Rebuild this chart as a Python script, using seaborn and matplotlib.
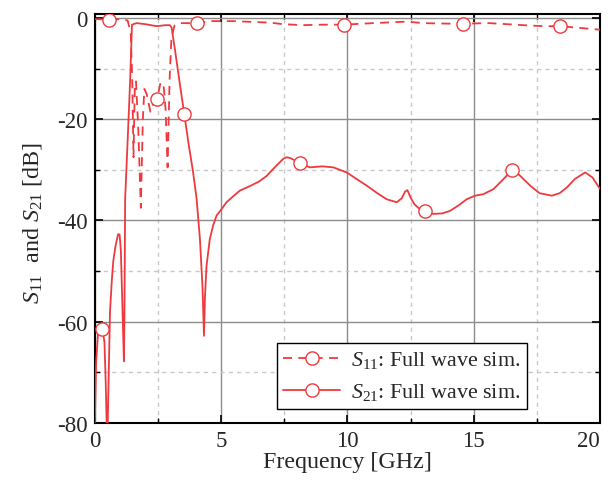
import numpy as np
import pandas as pd
import matplotlib
matplotlib.use("Agg")
import matplotlib.pyplot as plt
import seaborn as sns
from matplotlib.lines import Line2D
from matplotlib.ticker import MultipleLocator

# ---- data ----
s11_freq = [0.0, 0.55, 1.1, 1.3, 1.42, 1.48, 1.53, 1.58, 1.63, 1.72, 1.82, 1.9, 1.96,
            2.05, 2.2, 2.3, 2.47, 2.6, 2.72, 2.8, 2.88, 2.96, 3.03, 3.15, 3.37, 4.04,
            4.55, 5.47, 6.93, 7.45, 8.24, 9.03, 9.86, 11.0, 12.35, 13.0, 14.06, 14.57,
            15.64, 16.95, 17.75, 18.42, 20.0]
s11_db = [-0.2, -0.3, -0.2, -0.5, -3, -12, -27.5, -14, -12.5, -22, -37.5, -20, -14,
          -15, -18.5, -17, -16, -12.7, -13.2, -18, -29.5, -12, -4, -1.5, -1.0, -1.0,
          -0.6, -0.6, -0.9, -1.2, -1.4, -1.3, -1.3, -1.0, -0.7, -1.0, -1.1, -1.1,
          -1.0, -1.4, -1.6, -1.6, -2.3]

s21_freq = [0.0, 0.05, 0.13, 0.3, 0.38, 0.43, 0.49, 0.55, 0.6, 0.67, 0.73, 0.82, 0.92,
            0.98, 1.03, 1.08, 1.15, 1.17, 1.2, 1.3, 1.4, 1.47, 1.65, 2.0, 2.44, 2.8,
            2.97, 3.04, 3.17, 3.35, 3.54, 3.7, 3.89, 4.03, 4.16, 4.26, 4.32, 4.36,
            4.42, 4.55, 4.68, 4.82, 4.95, 5.21, 5.48, 5.74, 6.14, 6.5, 6.8, 7.1, 7.46,
            7.6, 7.75, 8.14, 8.51, 9.0, 9.44, 9.97, 10.36, 10.76, 11.15, 11.55, 11.95,
            12.15, 12.28, 12.37, 12.5, 12.65, 12.85, 13.07, 13.4, 13.75, 14.06, 14.4,
            14.72, 15.05, 15.38, 15.78, 16.1, 16.53, 16.8, 17.23, 17.6, 18.09, 18.4,
            18.68, 19.0, 19.41, 19.7, 20.0]
s21_db = [-80, -68, -62, -61.5, -64, -72, -85, -70, -58, -52, -48, -45, -42.7,
          -42.8, -46, -55, -67.8, -60, -35.6, -24, -12, -1.3, -1.0, -1.2, -1.6, -1.4,
          -1.4, -1.9, -6.2, -12.5, -19, -24.5, -30.5, -35.8, -43.7, -53, -62.8, -55,
          -49, -43.7, -41, -39, -38.2, -36.4, -35.2, -34.1, -33.2, -32.3, -31.2, -29.6, -27.8,
          -27.5, -27.7, -28.7, -29.5, -29.3, -29.5, -30.5, -31.8, -33.1, -34.5, -35.8, -36.4,
          -35.6, -34.3, -34.0, -35.5, -36.8, -37.7, -38.2, -38.7, -38.6, -38.1, -37.0,
          -35.8, -35.1, -34.8, -33.8, -32.2, -30.0, -31.0, -33.1, -34.6, -35.1, -34.6,
          -33.5, -31.8, -30.5, -31.5, -33.8]

s11_marker_freq = [0.55, 2.47, 4.04, 9.86, 14.57, 18.42]
s11_marker_db = [-0.3, -16, -1.0, -1.3, -1.1, -1.6]
s21_marker_freq = [0.3, 3.54, 8.14, 13.07, 16.53]
s21_marker_db = [-61.5, -19, -28.7, -38.2, -30.0]

x_ticks = [0, 5, 10, 15, 20]
y_ticks = [0, -20, -40, -60, -80]
legend_labels = [r"$S_{11}$: Full wave sim.", r"$S_{21}$: Full wave sim."]

# ---- style ----
sns.set_theme(style="white")
plt.rcParams["font.family"] = ["Liberation Serif", "DejaVu Serif"]
plt.rcParams["mathtext.fontset"] = "custom"
plt.rcParams["mathtext.rm"] = "Liberation Serif"
plt.rcParams["mathtext.it"] = "Liberation Serif:italic"
plt.rcParams["axes.unicode_minus"] = False

red = "#ee3a3f"
ms = 9.5

fig = plt.figure(figsize=(6.08, 4.85), dpi=100)
ax = fig.add_axes([0.156, 0.126, 0.831, 0.843])

df11 = pd.DataFrame({"f": s11_freq, "db": s11_db})
df21 = pd.DataFrame({"f": s21_freq, "db": s21_db})

sns.lineplot(data=df11, x="f", y="db", ax=ax, color=red, lw=1.3,
             linestyle=(0, (5, 3.5)), estimator=None, sort=False, zorder=3)
sns.lineplot(data=df21, x="f", y="db", ax=ax, color=red, lw=1.3,
             estimator=None, sort=False, zorder=3)

ax.plot(s11_marker_freq, s11_marker_db, ls="none", marker="o", ms=ms,
        mfc="white", mec=red, mew=1.0, zorder=4)
ax.plot(s21_marker_freq, s21_marker_db, ls="none", marker="o", ms=ms,
        mfc="white", mec=red, mew=1.0, zorder=4)

ax.set_xlim(0, 20)
ax.set_ylim(-80, 0.8)
ax.set_xticks(x_ticks)
ax.set_yticks(y_ticks)
ax.xaxis.set_minor_locator(MultipleLocator(2.5))
ax.yaxis.set_minor_locator(MultipleLocator(10))

ax.grid(True, which="major", color="#8c8c8c", lw=1.0, ls="-", zorder=0)
ax.grid(True, which="minor", color="#c8c8c8", lw=1.0, ls=(0, (3, 3)), zorder=0)
ax.set_axisbelow(True)

ax.tick_params(which="both", direction="in", top=True, right=True,
               bottom=True, left=True, color="black", labelsize=16.5, pad=5)
ax.tick_params(which="major", length=6, width=1.2)
ax.tick_params(which="minor", length=3.5, width=1.0)
for s in ax.spines.values():
    s.set_color("black")
    s.set_linewidth(1.5)

# last x tick label sits inside the figure, as in the reference
ax.xaxis.get_major_ticks()[-1].label1.set_horizontalalignment("right")

ax.set_xlabel("Frequency [GHz]", fontsize=17.3, labelpad=0)
ax.set_ylabel(r"$S_{11}$  and $S_{21}$ [dB]", fontsize=17.3)
ax.yaxis.set_label_coords(-0.10, 0.49)

handles = [
    Line2D([], [], color=red, lw=1.3, ls=(0, (5, 3.5)), marker="o", ms=ms,
           mfc="white", mec=red, mew=1.0),
    Line2D([], [], color=red, lw=1.3, ls="-", marker="o", ms=ms,
           mfc="white", mec=red, mew=1.0),
]
leg = ax.legend(handles, legend_labels, loc="lower left",
                bbox_to_anchor=(0.36, 0.034), fontsize=15.8, frameon=True,
                fancybox=False, edgecolor="black", framealpha=1,
                handlelength=2.6, handletextpad=0.5, borderpad=0.3,
                labelspacing=0.5, borderaxespad=0)
leg.get_frame().set_linewidth(1.0)

fig.savefig("out.png", dpi=100)
